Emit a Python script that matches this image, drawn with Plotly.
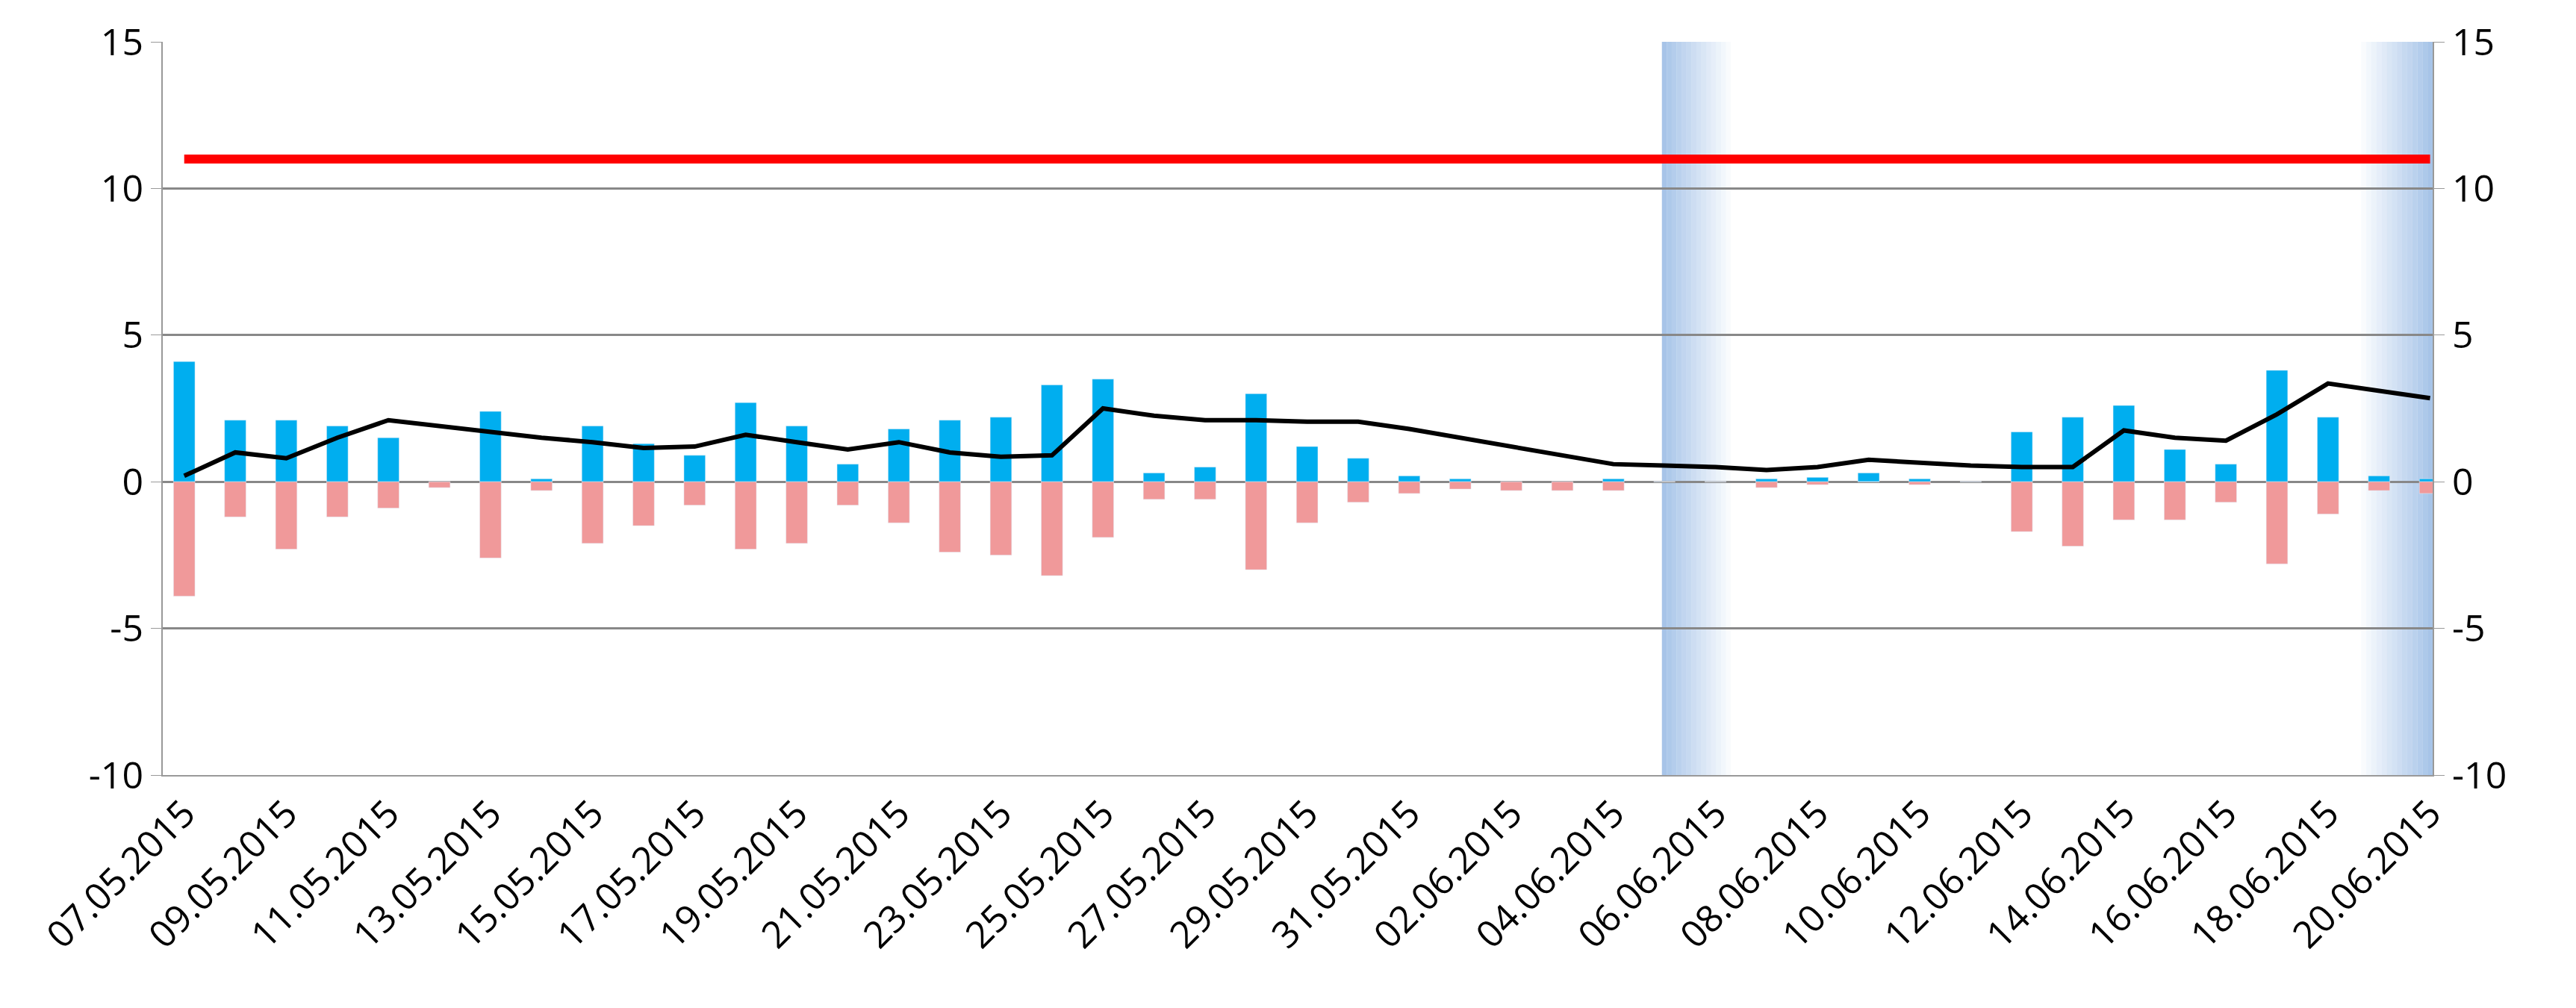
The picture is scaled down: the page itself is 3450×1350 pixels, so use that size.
import plotly.graph_objects as go
import datetime as dt

start = dt.date(2015, 5, 7)
dates = [(start + dt.timedelta(days=i)).strftime("%d.%m.%Y") for i in range(45)]
pos_vals = [4.1, 2.1, 2.1, 1.9, 1.5, 0.0, 2.4, 0.1, 1.9, 1.3, 0.9, 2.7, 1.9, 0.6, 1.8,
            2.1, 2.2, 3.3, 3.5, 0.3, 0.5, 3.0, 1.2, 0.8, 0.2, 0.1, 0.0, 0.0, 0.1, 0.0,
            0.0, 0.1, 0.15, 0.3, 0.1, 0.0, 1.7, 2.2, 2.6, 1.1, 0.6, 3.8, 2.2, 0.2, 0.1]
neg_vals = [-3.9, -1.2, -2.3, -1.2, -0.9, -0.2, -2.6, -0.3, -2.1, -1.5, -0.8, -2.3, -2.1, -0.8, -1.4,
            -2.4, -2.5, -3.2, -1.9, -0.6, -0.6, -3.0, -1.4, -0.7, -0.4, -0.25, -0.3, -0.3, -0.3, 0.0,
            0.0, -0.2, -0.1, 0.0, -0.1, 0.0, -1.7, -2.2, -1.3, -1.3, -0.7, -2.8, -1.1, -0.3, -0.4]
line_vals = [0.2, 1.0, 0.8, 1.5, 2.1, 1.9, 1.7, 1.5, 1.35, 1.15, 1.2, 1.6, 1.35, 1.1, 1.35,
             1.0, 0.85, 0.9, 2.5, 2.25, 2.1, 2.1, 2.05, 2.05, 1.8, 1.5, 1.2, 0.9, 0.6, 0.55,
             0.5, 0.4, 0.5, 0.75, 0.65, 0.55, 0.5, 0.5, 1.75, 1.5, 1.4, 2.3, 3.35, 3.1, 2.85]
limit_value = 11
y_ticks = [-10, -5, 0, 5, 10, 15]
y_labels = ["-10", "-5", "0", "5", "10", "15"]
x = list(range(len(dates)))

fig = go.Figure()
def band(x0, x1, reverse):
    n = 14
    for k in range(n):
        a = 0.65 * (1 - k / n)
        xa = x0 + (x1 - x0) * k / n
        xb = x0 + (x1 - x0) * (k + 1) / n
        if reverse:
            xa, xb = x1 - (x1 - x0) * (k + 1) / n, x1 - (x1 - x0) * k / n
        fig.add_shape(type="rect", xref="x", yref="paper", x0=xa, x1=xb, y0=0, y1=1,
                      fillcolor=f"rgba(120,165,220,{a:.3f})", line_width=0, layer="below")
band(29 - 0.05, 30.3, False)
band(42.65, 44.05, True)

fig.add_trace(go.Bar(x=x, y=pos_vals, marker_color="#00AEEF", width=0.42, showlegend=False))
fig.add_trace(go.Bar(x=x, y=neg_vals, marker_color="#F0999A", width=0.42, showlegend=False))
fig.add_trace(go.Scatter(x=x, y=line_vals, mode="lines", line=dict(color="black", width=6), showlegend=False))
fig.add_trace(go.Scatter(x=[x[0], x[-1]], y=[limit_value, limit_value], mode="lines",
                         line=dict(color="#FF0000", width=12), showlegend=False))
fig.add_trace(go.Scatter(x=[x[0]], y=[0], yaxis="y2", mode="markers", marker_opacity=0, showlegend=False, hoverinfo="skip"))

font = dict(family="Open Sans, Liberation Sans, sans-serif", size=50, color="black")
yax = dict(range=[-10, 15], tickmode="array", tickvals=y_ticks, ticktext=y_labels,
           showline=True, linecolor="#999999", linewidth=2, ticks="outside", ticklen=14, tickcolor="#999999")
fig.update_layout(
    width=3450, height=1350, plot_bgcolor="white", paper_bgcolor="white",
    barmode="overlay", font=font,
    margin=dict(l=210, r=200, t=48, b=320),
    xaxis=dict(range=[-0.42, 44.05], tickmode="array", tickvals=x[::2], ticktext=dates[::2],
               tickangle=-45, showgrid=False, ticks="", zeroline=False,
               showline=True, linecolor="#999999", linewidth=2),
    yaxis=dict(**yax, showgrid=True, gridcolor="#888888", gridwidth=3,
               zeroline=True, zerolinecolor="#888888", zerolinewidth=3),
    yaxis2=dict(**yax, overlaying="y", side="right", showgrid=False, zeroline=False),
)
fig.write_html("out.html")
